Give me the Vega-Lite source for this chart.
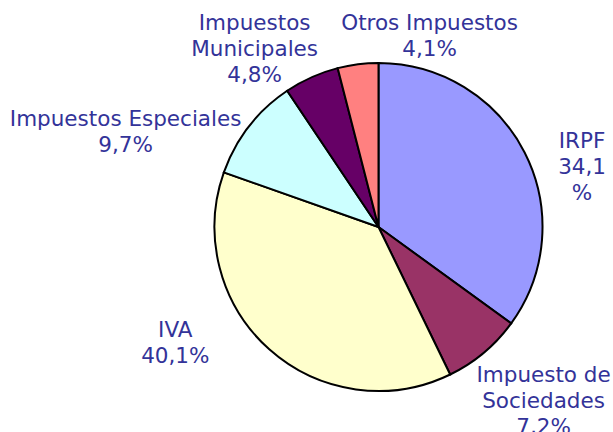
{
  "$schema": "https://vega.github.io/schema/vega-lite/v6.json",
  "width": 469,
  "height": 410,
  "autosize": {"type": "none"},
  "padding": {"left": 144, "top": 22, "right": 0, "bottom": 0},
  "background": "white",
  "config": {"view": {"stroke": null}},
  "data": {"values": [
    {"idx": 1, "cat": "IRPF", "value": 35.0, "label": "IRPF\n34,1\n%"},
    {"idx": 2, "cat": "Impuesto de Sociedades", "value": 7.8, "label": "Impuesto de\nSociedades\n7,2%"},
    {"idx": 3, "cat": "IVA", "value": 37.6, "label": "IVA\n40,1%"},
    {"idx": 4, "cat": "Impuestos Especiales", "value": 10.2, "label": "Impuestos Especiales\n9,7%"},
    {"idx": 5, "cat": "Impuestos Municipales", "value": 5.4, "label": "Impuestos\nMunicipales\n4,8%"},
    {"idx": 6, "cat": "Otros Impuestos", "value": 4.0, "label": "Otros Impuestos\n4,1%"}
  ]},
  "encoding": {
    "theta": {"field": "value", "type": "quantitative", "stack": true},
    "order": {"field": "idx", "type": "quantitative"}
  },
  "layer": [
    {
      "mark": {"type": "arc", "outerRadius": 164, "stroke": "#000000", "strokeWidth": 2},
      "encoding": {
        "color": {"field": "cat", "type": "nominal", "legend": null,
          "scale": {"domain": ["IRPF", "Impuesto de Sociedades", "IVA", "Impuestos Especiales", "Impuestos Municipales", "Otros Impuestos"],
                    "range": ["#9999FF", "#993366", "#FFFFCC", "#CCFFFF", "#660066", "#FF8080"]}}
      }
    },
    {
      "mark": {"type": "text", "radius": 215, "dx": 12, "dy": 13, "font": "DejaVu Sans", "fontSize": 21.5, "lineHeight": 26, "lineBreak": "\n", "color": "#333399", "align": "center", "baseline": "middle"},
      "encoding": {"text": {"condition": {"test": "datum.cat == 'IRPF'", "field": "label"}, "value": ""}}
    },
    {
      "mark": {"type": "text", "radius": 215, "dx": 27, "dy": -16, "font": "DejaVu Sans", "fontSize": 21.5, "lineHeight": 26, "lineBreak": "\n", "color": "#333399", "align": "center", "baseline": "middle"},
      "encoding": {"text": {"condition": {"test": "datum.cat == 'Impuesto de Sociedades'", "field": "label"}, "value": ""}}
    },
    {
      "mark": {"type": "text", "radius": 215, "dx": -60, "dy": -56, "font": "DejaVu Sans", "fontSize": 21.5, "lineHeight": 26, "lineBreak": "\n", "color": "#333399", "align": "center", "baseline": "middle"},
      "encoding": {"text": {"condition": {"test": "datum.cat == 'IVA'", "field": "label"}, "value": ""}}
    },
    {
      "mark": {"type": "text", "radius": 215, "dx": -83, "dy": 25, "font": "DejaVu Sans", "fontSize": 21.5, "lineHeight": 26, "lineBreak": "\n", "color": "#333399", "align": "center", "baseline": "middle"},
      "encoding": {"text": {"condition": {"test": "datum.cat == 'Impuestos Especiales'", "field": "label"}, "value": ""}}
    },
    {
      "mark": {"type": "text", "radius": 215, "dx": -36, "dy": -7, "font": "DejaVu Sans", "fontSize": 21.5, "lineHeight": 26, "lineBreak": "\n", "color": "#333399", "align": "center", "baseline": "middle"},
      "encoding": {"text": {"condition": {"test": "datum.cat == 'Impuestos Municipales'", "field": "label"}, "value": ""}}
    },
    {
      "mark": {"type": "text", "radius": 215, "dx": 78, "dy": 10, "font": "DejaVu Sans", "fontSize": 21.5, "lineHeight": 26, "lineBreak": "\n", "color": "#333399", "align": "center", "baseline": "middle"},
      "encoding": {"text": {"condition": {"test": "datum.cat == 'Otros Impuestos'", "field": "label"}, "value": ""}}
    }
  ]
}
